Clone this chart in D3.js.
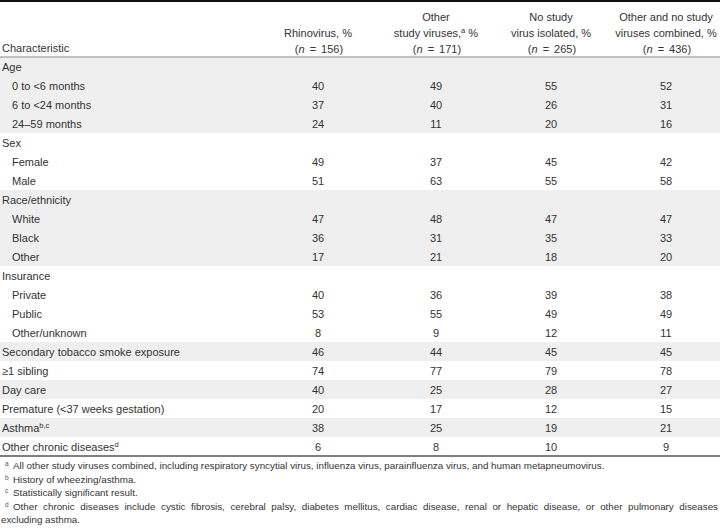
<!DOCTYPE html>
<html>
<head>
<meta charset="utf-8">
<script src="https://cdn.jsdelivr.net/npm/d3@7"></script>
<style>
  html, body { margin: 0; padding: 0; background: #fff; }
  svg { display: block; }
  text { font-family: "Liberation Sans", Arial, sans-serif; fill: #333; }
</style>
</head>
<body>
<svg id="chart" width="720" height="528"></svg>
<script>
// ---------- DATA ----------
const rowLabels = ["Age", "0 to <6 months", "6 to <24 months", "24–59 months",
  "Sex", "Female", "Male",
  "Race/ethnicity", "White", "Black", "Other",
  "Insurance", "Private", "Public", "Other/unknown",
  "Secondary tobacco smoke exposure", "≥1 sibling", "Day care",
  "Premature (<37 weeks gestation)", "Asthma", "Other chronic diseases"];
const rowIndent = [0,1,1,1, 0,1,1, 0,1,1,1, 0,1,1,1, 0,0,0,0,0,0];
const rowGroup  = [0,0,0,0, 1,1,1, 2,2,2,2, 3,3,3,3, 4,5,6,7,8,9];
const rowSup    = ["","","","", "","","", "","","","", "","","","", "","","","","b,c","d"];

const rhinovirus = [null,40,37,24, null,49,51, null,47,36,17, null,40,53,8, 46,74,40,20,38,6];
const otherViruses = [null,49,40,11, null,37,63, null,48,31,21, null,36,55,9, 44,77,25,17,25,8];
const noVirus = [null,55,26,20, null,45,55, null,47,35,18, null,39,49,12, 45,79,28,12,19,10];
const combined = [null,52,31,16, null,42,58, null,47,33,20, null,38,49,11, 45,78,27,15,21,9];

const columnKeys = ["rhino", "other", "none", "combined"];
const columnTitles = [
  [null, ["Rhinovirus, %"]],
  [["Other"], ["study viruses,", "a", " %"]],
  [["No study"], ["virus isolated, %"]],
  [["Other and no study"], ["viruses combined, %"]]
];
const columnN = [156, 171, 265, 436];
const footnoteMarks = ["a", "b", "c", "d"];
const footnoteTexts = [
  "All other study viruses combined, including respiratory syncytial virus, influenza virus, parainfluenza virus, and human metapneumovirus.",
  "History of wheezing/asthma.",
  "Statistically significant result.",
  "Other chronic diseases include cystic fibrosis, cerebral palsy, diabetes mellitus, cardiac disease, renal or hepatic disease, or other pulmonary diseases"
];
const footnoteLast = "excluding asthma.";

// ---------- LAYOUT ----------
const W = 720, H = 528;
const svg = d3.select("#chart");
const series = [rhinovirus, otherViruses, noVirus, combined];

const y = d3.scaleBand().domain(d3.range(rowLabels.length)).range([57, 456]);
const x = d3.scaleOrdinal().domain(columnKeys).range([318, 436, 551, 666]);

// shaded bands (groups alternate)
const groups = d3.groups(d3.range(rowLabels.length), i => rowGroup[i]);
svg.append("g").selectAll("rect").data(groups.filter(g => g[0] % 2 === 0)).join("rect")
  .attr("x", 0)
  .attr("width", W)
  .attr("y", d => y(d[1][0]))
  .attr("height", d => y(d[1][d[1].length - 1]) + y.bandwidth() - y(d[1][0]))
  .attr("fill", "#efefef");

// rules
svg.append("line").attr("x1", 0).attr("x2", W).attr("y1", 1).attr("y2", 1)
  .attr("stroke", "#111").attr("stroke-width", 2);
svg.append("line").attr("x1", 0).attr("x2", W).attr("y1", 57).attr("y2", 57)
  .attr("stroke", "#8a8a8a").attr("stroke-width", 1.2);
svg.append("line").attr("x1", 0).attr("x2", W).attr("y1", 456).attr("y2", 456)
  .attr("stroke", "#555").attr("stroke-width", 1.5);

// header
const fs = 11;
svg.append("text").attr("x", 2).attr("y", 52).attr("font-size", fs).text("Characteristic");
const headerBaselines = [21, 37, 53];
columnKeys.forEach((k, ci) => {
  columnTitles[ci].forEach((line, li) => {
    if (!line) return;
    const t = svg.append("text").attr("x", x(k)).attr("y", headerBaselines[li])
      .attr("text-anchor", "middle").attr("font-size", fs);
    t.append("tspan").text(line[0]);
    if (line[1]) {
      t.append("tspan").attr("font-size", 7.5).attr("dy", -4).text(line[1]);
      t.append("tspan").attr("dy", 4).text(line[2]);
    }
  });
  const tn = svg.append("text").attr("x", x(k) + 1).attr("y", headerBaselines[2])
    .attr("text-anchor", "middle").attr("font-size", fs);
  tn.append("tspan").text("(");
  tn.append("tspan").attr("font-style", "italic").text("n");
  tn.append("tspan").attr("dx", 5).text("=");
  tn.append("tspan").attr("dx", 5).text(columnN[ci] + ")");
});

// row labels
const rowsG = svg.append("g");
rowLabels.forEach((lab, i) => {
  const t = rowsG.append("text")
    .attr("x", rowIndent[i] ? 12 : 2)
    .attr("y", y(i) + 14)
    .attr("font-size", fs);
  t.append("tspan").text(lab);
  if (rowSup[i]) t.append("tspan").attr("font-size", 7.5).attr("dy", -4).text(rowSup[i]);
});

// values
series.forEach((vals, ci) => {
  svg.append("g").selectAll("text").data(vals.map((v, i) => ({v, i})).filter(d => d.v !== null))
    .join("text")
    .attr("x", x(columnKeys[ci]))
    .attr("y", d => y(d.i) + 14)
    .attr("text-anchor", "middle")
    .attr("font-size", fs)
    .text(d => d.v);
});

// footnotes
const ffs = 9.8;
const footBase = [469, 483, 496, 510];
footnoteTexts.forEach((txt, i) => {
  svg.append("text").attr("x", 5).attr("y", footBase[i] - 3.5).attr("font-size", 6.5)
    .style("fill", "#555").text(footnoteMarks[i]);
  if (i < 3) {
    svg.append("text").attr("x", 13).attr("y", footBase[i]).attr("font-size", ffs).text(txt);
  } else {
    // justified line
    const words = txt.split(" ");
    const g = svg.append("g");
    const nodes = words.map(w => g.append("text").attr("y", footBase[i]).attr("font-size", ffs).text(w));
    const widths = nodes.map(n => n.node().getComputedTextLength());
    const left = 13, right = 718;
    const gap = (right - left - d3.sum(widths)) / (words.length - 1);
    let cx = left;
    nodes.forEach((n, j) => { n.attr("x", cx); cx += widths[j] + gap; });
  }
});
svg.append("text").attr("x", 1).attr("y", 523).attr("font-size", ffs).text(footnoteLast);
</script>
</body>
</html>
